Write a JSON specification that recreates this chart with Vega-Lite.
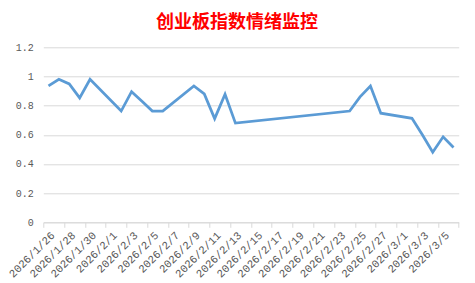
{
  "$schema": "https://vega.github.io/schema/vega-lite/v6.json",
  "width": 415.4,
  "height": 175,
  "autosize": {"type": "none"},
  "padding": {"left": 43.3, "top": 47.3, "right": 16.3, "bottom": 60.7},
  "background": "white",
  "title": {
    "text": "创业板指数情绪监控",
    "color": "#ff0000",
    "fontSize": 18,
    "font": "Noto Sans CJK SC",
    "fontWeight": "bold",
    "anchor": "middle",
    "frame": "group",
    "dx": -14,
    "offset": 10
  },
  "data": {
    "values": [
      {"date": "2026-01-26", "value": 0.935},
      {"date": "2026-01-27", "value": 0.981},
      {"date": "2026-01-28", "value": 0.949},
      {"date": "2026-01-29", "value": 0.853},
      {"date": "2026-01-30", "value": 0.981},
      {"date": "2026-02-02", "value": 0.763},
      {"date": "2026-02-03", "value": 0.896},
      {"date": "2026-02-04", "value": 0.83},
      {"date": "2026-02-05", "value": 0.763},
      {"date": "2026-02-06", "value": 0.763},
      {"date": "2026-02-09", "value": 0.935},
      {"date": "2026-02-10", "value": 0.88},
      {"date": "2026-02-11", "value": 0.711},
      {"date": "2026-02-12", "value": 0.878},
      {"date": "2026-02-13", "value": 0.68},
      {"date": "2026-02-24", "value": 0.763},
      {"date": "2026-02-25", "value": 0.86},
      {"date": "2026-02-26", "value": 0.935},
      {"date": "2026-02-27", "value": 0.748},
      {"date": "2026-03-02", "value": 0.713},
      {"date": "2026-03-03", "value": 0.6},
      {"date": "2026-03-04", "value": 0.481},
      {"date": "2026-03-05", "value": 0.586},
      {"date": "2026-03-06", "value": 0.513}
    ]
  },
  "mark": {"type": "line", "color": "#5b9bd5", "strokeWidth": 2.75},
  "encoding": {
    "x": {
      "field": "date",
      "type": "temporal",
      "title": null,
      "scale": {
        "type": "utc",
        "domain": [
          {"year": 2026, "month": 1, "date": 25, "hours": 12, "utc": true},
          {"year": 2026, "month": 3, "date": 6, "hours": 12, "utc": true}
        ]
      },
      "axis": {
        "values": [
          {"year": 2026, "month": 1, "date": 25, "hours": 12, "utc": true},
          {"year": 2026, "month": 1, "date": 27, "hours": 12, "utc": true},
          {"year": 2026, "month": 1, "date": 29, "hours": 12, "utc": true},
          {"year": 2026, "month": 1, "date": 31, "hours": 12, "utc": true},
          {"year": 2026, "month": 2, "date": 2, "hours": 12, "utc": true},
          {"year": 2026, "month": 2, "date": 4, "hours": 12, "utc": true},
          {"year": 2026, "month": 2, "date": 6, "hours": 12, "utc": true},
          {"year": 2026, "month": 2, "date": 8, "hours": 12, "utc": true},
          {"year": 2026, "month": 2, "date": 10, "hours": 12, "utc": true},
          {"year": 2026, "month": 2, "date": 12, "hours": 12, "utc": true},
          {"year": 2026, "month": 2, "date": 14, "hours": 12, "utc": true},
          {"year": 2026, "month": 2, "date": 16, "hours": 12, "utc": true},
          {"year": 2026, "month": 2, "date": 18, "hours": 12, "utc": true},
          {"year": 2026, "month": 2, "date": 20, "hours": 12, "utc": true},
          {"year": 2026, "month": 2, "date": 22, "hours": 12, "utc": true},
          {"year": 2026, "month": 2, "date": 24, "hours": 12, "utc": true},
          {"year": 2026, "month": 2, "date": 26, "hours": 12, "utc": true},
          {"year": 2026, "month": 2, "date": 28, "hours": 12, "utc": true},
          {"year": 2026, "month": 3, "date": 2, "hours": 12, "utc": true},
          {"year": 2026, "month": 3, "date": 4, "hours": 12, "utc": true},
          {"year": 2026, "month": 3, "date": 6, "hours": 11, "utc": true}
        ],
        "labelExpr": "datum.value > 1772700000000 ? '' : utcFormat(datum.value + 43200000, '%Y/%-m/%-d')",
        "labelOffset": 5.2,
        "labelAngle": -45,
        "labelFont": "Liberation Mono",
        "labelFontSize": 11,
        "labelColor": "#595959",
        "labelPadding": 2,
        "labelOverlap": false,
        "labelBound": false,
        "labelFlush": false,
        "grid": false,
        "ticks": true,
        "tickSize": 5,
        "tickColor": "#d9d9d9",
        "domainColor": "#d9d9d9",
        "domainWidth": 1
      }
    },
    "y": {
      "field": "value",
      "type": "quantitative",
      "title": null,
      "scale": {"domain": [0, 1.2], "nice": false},
      "axis": {
        "values": [0, 0.2, 0.4, 0.6, 0.8, 1, 1.2],
        "format": ".1~f",
        "labelFont": "Liberation Mono",
        "labelFontSize": 10,
        "labelColor": "#595959",
        "labelPadding": 10,
        "ticks": false,
        "domain": false,
        "grid": true,
        "gridColor": "#d9d9d9",
        "gridWidth": 1
      }
    }
  },
  "config": {"view": {"stroke": null}}
}
